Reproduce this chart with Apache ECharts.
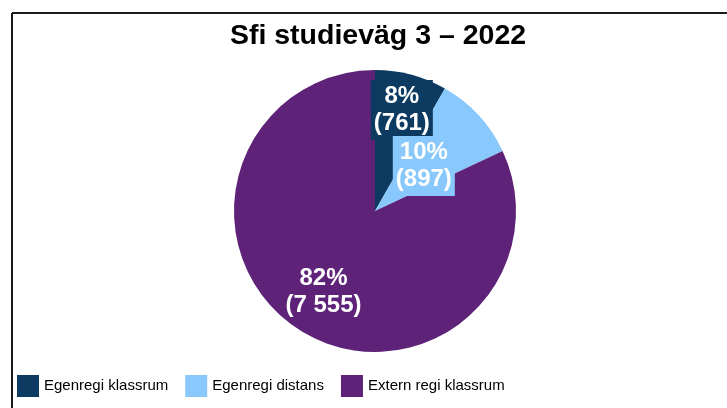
<!DOCTYPE html>
<html><head><meta charset="utf-8">
<script src="https://cdn.jsdelivr.net/npm/echarts@6/dist/echarts.min.js"></script>
<style>html,body{margin:0;padding:0;background:#fff}#c{width:727px;height:408px}</style>
</head><body><div id="c"></div>
<script>
const categories = ['Egenregi klassrum', 'Egenregi distans', 'Extern regi klassrum'];
const values = [761, 897, 7555];
const percentLabels = ['8%', '10%', '82%'];
const countLabels = ['761', '897', '7 555'];
const colors = ['#0c3a60', '#88c8fc', '#5e2378'];
const labelBoxColors = ['#0c3a60', '#88c8fc', 'transparent'];
const labelRadiusFactor = [0.72, 0.45, 0.66];

const R = 141;
const total = values.reduce((a, b) => a + b, 0);
let acc = 0;
const mids = values.map(v => { const m = (acc + v / 2) / total * Math.PI * 2; acc += v; return m; });

const chart = echarts.init(document.getElementById('c'), null, {renderer: 'canvas'});
chart.setOption({
  animation: false,
  color: colors,
  title: {
    text: 'Sfi studieväg 3 – 2022',
    left: 373, top: 17, textAlign: 'center',
    textStyle: {fontFamily: 'Liberation Sans, Arial', fontWeight: 'bold', fontSize: 28.5, color: '#000'}
  },
  legend: {
    left: 12, top: 370,
    itemWidth: 22, itemHeight: 22, itemGap: 17,
    icon: 'rect',
    textStyle: {fontFamily: 'Liberation Sans, Arial', fontSize: 15, color: '#000'},
    data: categories
  },
  graphic: [
    {type: 'line', shape: {x1: 12, y1: 13, x2: 727, y2: 13}, style: {stroke: '#1a1a1a', lineWidth: 2}},
    {type: 'line', shape: {x1: 12, y1: 13, x2: 12, y2: 408}, style: {stroke: '#1a1a1a', lineWidth: 2}}
  ],
  series: [{
    type: 'pie',
    center: [375, 211],
    radius: [0, R],
    startAngle: 90,
    clockwise: true,
    avoidLabelOverlap: false,
    label: {
      position: 'inside',
      color: '#fff',
      fontFamily: 'Liberation Sans, Arial',
      fontWeight: 'bold',
      fontSize: 24,
      lineHeight: 27,
      padding: [3, 3, 3, 3],
      formatter: p => percentLabels[p.dataIndex] + '\n(' + countLabels[p.dataIndex] + ')'
    },
    labelLine: {show: false},
    labelLayout: p => {
      const i = p.dataIndex;
      const d = (labelRadiusFactor[i] - 0.5) * R;
      return {dx: d * Math.sin(mids[i]), dy: -d * Math.cos(mids[i])};
    },
    emphasis: {disabled: true},
    data: categories.map((c, i) => ({
      name: c, value: values[i],
      label: {backgroundColor: labelBoxColors[i]}
    }))
  }]
});
</script></body></html>
